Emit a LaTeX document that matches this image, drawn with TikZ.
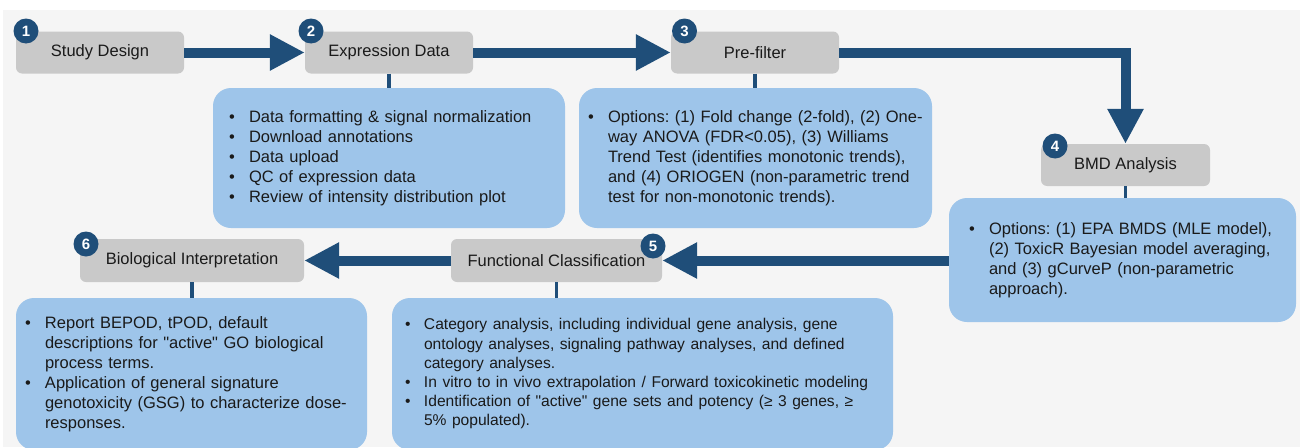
\documentclass[tikz,border=0pt]{standalone}
\usepackage{fontspec}
\setmainfont{Liberation Sans}
\usetikzlibrary{arrows.meta}
\definecolor{bgc}{HTML}{F5F5F5}
\definecolor{boxgray}{HTML}{C9C9C9}
\definecolor{boxblue}{HTML}{9EC5EA}
\definecolor{navy}{HTML}{1F4E79}
\definecolor{ink}{HTML}{1A1A1A}
\frenchspacing
\newcommand{\blist}[1]{{\fontsize{16.5}{20}\selectfont\begin{tabular}{@{}p{20pt}@{}l@{}}#1\end{tabular}}}
\newcommand{\slist}[1]{{\fontsize{15.6}{19.2}\selectfont\begin{tabular}{@{}p{19pt}@{}l@{}}#1\end{tabular}}}
\newcommand{\sq}{\textquotedbl}
\tikzset{
  graybox/.style={rectangle, rounded corners=6pt, fill=boxgray, text=ink,
    minimum height=42pt, inner sep=0pt, font=\fontsize{16.5}{20}\selectfont},
  bluebox/.style={rectangle, rounded corners=18pt, fill=boxblue, text=ink,
    inner ysep=0pt, align=left, font=\fontsize{16.5}{20}\selectfont},
  badge/.style={circle, fill=navy, text=white, minimum size=25pt, inner sep=0pt,
    font=\fontsize{15}{15}\selectfont\bfseries},
  bigarrow/.style={draw=navy, line width=10pt, -{Triangle[length=35pt,width=34pt]}},
  link/.style={draw=navy, line width=3.5pt},
}
\begin{document}
\begin{tikzpicture}[x=1pt,y=-1pt]
\clip (0,0) rectangle (1300,447);
\fill[white] (0,0) rectangle (1300,447);
\fill[bgc] (3,10) rectangle (1300,447);

% gray step boxes
\node[graybox, minimum width=168pt] (sd) at (100,52.5) {Study Design};
\node[graybox, minimum width=168pt] (ed) at (389,52.5) {Expression Data};
\node[graybox, minimum width=168pt] (pf) at (755,52.5) {Pre-filter};
\node[graybox, minimum width=169pt] (bmd) at (1125.5,165) {BMD Analysis};
\node[graybox, minimum width=211pt, minimum height=43pt] (fc) at (556.5,260.5) {Functional Classification};
\node[graybox, minimum width=224pt, minimum height=43pt] (bi) at (192,260.5) {Biological Interpretation};

% blue detail boxes
\node[bluebox, minimum width=352pt, minimum height=140pt, text width=320pt, inner xsep=16pt] (edb) at (389,158)
  {\blist{\textbullet & Data formatting \& signal normalization\\
  \textbullet & Download annotations\\
  \textbullet & Data upload\\
  \textbullet & QC of expression data\\
  \textbullet & Review of intensity distribution plot}};
\node[bluebox, minimum width=353pt, minimum height=140pt, text width=335pt, inner xsep=9pt] (pfb) at (755.5,158)
  {\blist{\textbullet & Options: (1) Fold change (2-fold), (2) One-\\
  & way ANOVA (FDR<0.05), (3) Williams\\
  & Trend Test (identifies monotonic trends),\\
  & and (4) ORIOGEN (non-parametric trend\\
  & test for non-monotonic trends).}};
\node[bluebox, minimum width=347pt, minimum height=124pt, text width=307pt, inner xsep=20pt] (bmdb) at (1122.5,260)
  {\blist{\textbullet & Options: (1) EPA BMDS (MLE model),\\
  & (2) ToxicR Bayesian model averaging,\\
  & and (3) gCurveP (non-parametric\\
  & approach).}};
\node[bluebox, minimum width=501pt, minimum height=152pt, text width=475pt, inner xsep=13pt] (fcb) at (642.5,374)
  {\slist{\textbullet & Category analysis, including individual gene analysis, gene\\
  & ontology analyses, signaling pathway analyses, and defined\\
  & category analyses.\\
  \textbullet & In vitro to in vivo extrapolation / Forward toxicokinetic modeling\\
  \textbullet & Identification of \sq active\sq{} gene sets and potency (≥ 3 genes, ≥\\
  & 5\% populated).}};
\node[bluebox, minimum width=351pt, minimum height=152pt, text width=333pt, inner xsep=9pt] (bib) at (191.5,374)
  {\blist{\textbullet & Report BEPOD, tPOD, default\\
  & descriptions for \sq active\sq{} GO biological\\
  & process terms.\\
  \textbullet & Application of general signature\\
  & genotoxicity (GSG) to characterize dose-\\
  & responses.}};

% thin links from steps to their detail boxes
\draw[link] (ed.south) -- (ed.south |- edb.north);
\draw[link] (pf.south) -- (pf.south |- pfb.north);
\draw[link] (bmd.south) -- (bmd.south |- bmdb.north);
\draw[link] (fc.south) -- (fc.south |- fcb.north);
\draw[link] (bi.south) -- (bi.south |- bib.north);

% main flow arrows
\draw[bigarrow] (sd.east) -- (ed.west);
\draw[bigarrow] (ed.east) -- (pf.west);
\draw[bigarrow] (pf.east) -| (bmd.north);
\draw[bigarrow] (bmdb.west |- fc.east) -- (fc.east);
\draw[bigarrow] (fc.west) -- (bi.east);

% numbered badges
\node[badge] (n1) at (26,31) {1};
\node[badge] (n2) at (311,31) {2};
\node[badge] (n3) at (684.5,31) {3};
\node[badge] (n4) at (1055,146) {4};
\node[badge] (n5) at (653,246) {5};
\node[badge] (n6) at (86,244) {6};
\end{tikzpicture}
\end{document}
